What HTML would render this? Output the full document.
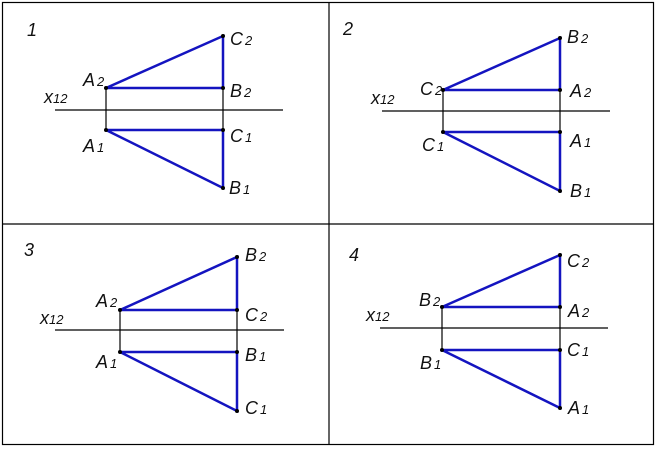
<!DOCTYPE html>
<html><head><style>
html,body{margin:0;padding:0;background:#fff;}
svg{display:block;}
text{font-family:"Liberation Sans",sans-serif;font-style:italic;font-size:18px;fill:#111;}
.s{font-size:13px;}
</style></head><body>
<svg width="658" height="449" viewBox="0 0 658 449" xmlns="http://www.w3.org/2000/svg">
<rect x="2.5" y="2.5" width="651" height="442" fill="none" stroke="#000" stroke-width="1.2"/>
<line x1="329" y1="2" x2="329" y2="445" stroke="#000" stroke-width="1.2"/>
<line x1="2" y1="224" x2="654" y2="224" stroke="#000" stroke-width="1.2"/>

<g id="p1">
<line x1="55" y1="110" x2="283" y2="110" stroke="#000" stroke-width="1.2"/>
<line x1="106" y1="88" x2="106" y2="130" stroke="#000" stroke-width="1.2"/>
<line x1="223" y1="88" x2="223" y2="130" stroke="#000" stroke-width="1.2"/>
<polyline points="106,88 223,36 223,88 106,88" fill="none" stroke="#1414c0" stroke-width="2.5"/>
<polyline points="106,130 223,188 223,130 106,130" fill="none" stroke="#1414c0" stroke-width="2.5"/>
<g fill="#000"><circle cx="106" cy="88" r="2"/><circle cx="223" cy="36" r="2"/><circle cx="223" cy="88" r="2"/><circle cx="106" cy="130" r="2"/><circle cx="223" cy="130" r="2"/><circle cx="223" cy="188" r="2"/></g>
<text x="27" y="36">1</text>
<text x="44" y="103">x<tspan class="s">12</tspan></text>
<text x="83" y="86">A<tspan class="s" dx="2">2</tspan></text>
<text x="230" y="45">C<tspan class="s" dx="2">2</tspan></text>
<text x="230" y="97">B<tspan class="s" dx="2">2</tspan></text>
<text x="230" y="142">C<tspan class="s" dx="2">1</tspan></text>
<text x="83" y="152">A<tspan class="s" dx="2">1</tspan></text>
<text x="229" y="194">B<tspan class="s" dx="2">1</tspan></text>
</g>

<g id="p2">
<line x1="382" y1="111" x2="610" y2="111" stroke="#000" stroke-width="1.2"/>
<line x1="443" y1="90" x2="443" y2="132" stroke="#000" stroke-width="1.2"/>
<line x1="560" y1="90" x2="560" y2="132" stroke="#000" stroke-width="1.2"/>
<polyline points="443,90 560,38 560,90 443,90" fill="none" stroke="#1414c0" stroke-width="2.5"/>
<polyline points="443,132 560,191 560,132 443,132" fill="none" stroke="#1414c0" stroke-width="2.5"/>
<g fill="#000"><circle cx="443" cy="90" r="2"/><circle cx="560" cy="38" r="2"/><circle cx="560" cy="90" r="2"/><circle cx="443" cy="132" r="2"/><circle cx="560" cy="132" r="2"/><circle cx="560" cy="191" r="2"/></g>
<text x="343" y="35">2</text>
<text x="371" y="104">x<tspan class="s">12</tspan></text>
<text x="420" y="95">C<tspan class="s" dx="2">2</tspan></text>
<text x="567" y="43">B<tspan class="s" dx="2">2</tspan></text>
<text x="570" y="97">A<tspan class="s" dx="2">2</tspan></text>
<text x="570" y="147">A<tspan class="s" dx="2">1</tspan></text>
<text x="570" y="197">B<tspan class="s" dx="2">1</tspan></text>
<text x="422" y="151">C<tspan class="s" dx="2">1</tspan></text>
</g>

<g id="p3">
<line x1="55" y1="330" x2="284" y2="330" stroke="#000" stroke-width="1.2"/>
<line x1="120" y1="310" x2="120" y2="352" stroke="#000" stroke-width="1.2"/>
<line x1="237" y1="310" x2="237" y2="352" stroke="#000" stroke-width="1.2"/>
<polyline points="120,310 237,257 237,310 120,310" fill="none" stroke="#1414c0" stroke-width="2.5"/>
<polyline points="120,352 237,411 237,352 120,352" fill="none" stroke="#1414c0" stroke-width="2.5"/>
<g fill="#000"><circle cx="120" cy="310" r="2"/><circle cx="237" cy="257" r="2"/><circle cx="237" cy="310" r="2"/><circle cx="120" cy="352" r="2"/><circle cx="237" cy="352" r="2"/><circle cx="237" cy="411" r="2"/></g>
<text x="24" y="256">3</text>
<text x="40" y="324">x<tspan class="s">12</tspan></text>
<text x="96" y="307">A<tspan class="s" dx="2">2</tspan></text>
<text x="245" y="261">B<tspan class="s" dx="2">2</tspan></text>
<text x="245" y="321">C<tspan class="s" dx="2">2</tspan></text>
<text x="245" y="361">B<tspan class="s" dx="2">1</tspan></text>
<text x="96" y="368">A<tspan class="s" dx="2">1</tspan></text>
<text x="245" y="414">C<tspan class="s" dx="2">1</tspan></text>
</g>

<g id="p4">
<line x1="380" y1="328" x2="608" y2="328" stroke="#000" stroke-width="1.2"/>
<line x1="442" y1="307" x2="442" y2="350" stroke="#000" stroke-width="1.2"/>
<line x1="560" y1="307" x2="560" y2="350" stroke="#000" stroke-width="1.2"/>
<polyline points="442,307 560,255 560,307 442,307" fill="none" stroke="#1414c0" stroke-width="2.5"/>
<polyline points="442,350 560,408 560,350 442,350" fill="none" stroke="#1414c0" stroke-width="2.5"/>
<g fill="#000"><circle cx="442" cy="307" r="2"/><circle cx="560" cy="255" r="2"/><circle cx="560" cy="307" r="2"/><circle cx="442" cy="350" r="2"/><circle cx="560" cy="350" r="2"/><circle cx="560" cy="408" r="2"/></g>
<text x="349" y="261">4</text>
<text x="366" y="321">x<tspan class="s">12</tspan></text>
<text x="419" y="306">B<tspan class="s" dx="2">2</tspan></text>
<text x="567" y="267">C<tspan class="s" dx="2">2</tspan></text>
<text x="568" y="317">A<tspan class="s" dx="2">2</tspan></text>
<text x="567" y="356">C<tspan class="s" dx="2">1</tspan></text>
<text x="420" y="369">B<tspan class="s" dx="2">1</tspan></text>
<text x="568" y="414">A<tspan class="s" dx="2">1</tspan></text>
</g>
</svg>
</body></html>
